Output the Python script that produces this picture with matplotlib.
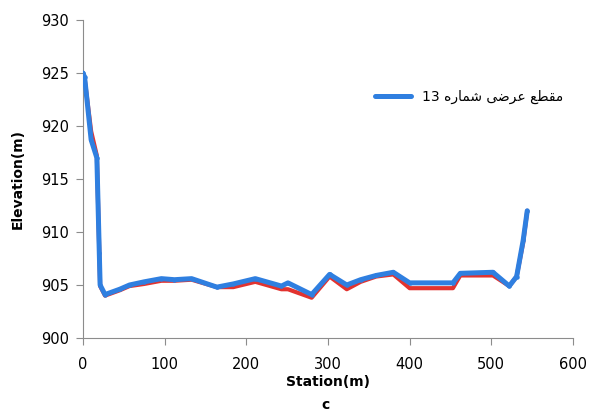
import numpy as np
import matplotlib
matplotlib.use("Agg")
import matplotlib.pyplot as plt

# ایستگاه ها (m) و ارتفاع دو پروفیل
station = [0, 2, 10, 17, 20, 21, 27, 45, 57, 75, 96, 112, 133, 164, 184, 211,
           243, 251, 280, 302, 323, 340, 359, 380, 400, 453, 462, 502, 522,
           531, 539, 544]
elev_blue = [925, 924.6, 918.7, 917, 908, 905, 904.1, 904.6, 905.0, 905.3,
             905.6, 905.5, 905.6, 904.8, 905.1, 905.6, 904.9, 905.2, 904.1,
             906.0, 905.0, 905.5, 905.9, 906.2, 905.2, 905.2, 906.1, 906.2,
             904.9, 905.8, 909.2, 912]
elev_red = [925, 924.5, 919.5, 917.2, 908, 904.9, 904.0, 904.5, 904.9, 905.1,
            905.4, 905.4, 905.5, 904.8, 904.8, 905.3, 904.6, 904.6, 903.8,
            905.8, 904.6, 905.3, 905.8, 906.0, 904.7, 904.7, 905.9, 905.9,
            904.9, 905.8, 909.0, 912]

x_ticks = [0, 100, 200, 300, 400, 500, 600]
y_ticks = [900, 905, 910, 915, 920, 925, 930]

# "مقطع عرضی شماره 13" با حروف شکل دار و ترتیب دیداری چپ به راست
legend_text = ("13 " + "\uFEE9\uFEAD\uFE8E\uFEE4\uFEB7" + " "
               + "\uFEF0\uFEBF\uFEAE\uFECB" + " " + "\uFECA\uFEC4\uFED8\uFEE3")

fig = plt.figure(figsize=(5.91, 4.12), dpi=100)
ax = fig.add_axes([0.1404, 0.1796, 0.8291, 0.7719])

ax.plot(station, elev_red, color="#e2332f", lw=3.0, solid_capstyle="round",
        zorder=2)
ax.plot(station, elev_blue, color="#2f7fe0", lw=3.6, marker="o", ms=2.2,
        solid_capstyle="round", solid_joinstyle="round", zorder=3,
        label=legend_text)

ax.set_xlim(0, 600)
ax.set_ylim(900, 930)
ax.set_xticks(x_ticks)
ax.set_yticks(y_ticks)

for s in ["top", "right"]:
    ax.spines[s].set_visible(False)
for s in ["left", "bottom"]:
    ax.spines[s].set_color("#8c8c8c")
ax.tick_params(direction="out", length=5, color="#8c8c8c", labelsize=10.5)
ax.tick_params(axis="x", pad=9)
ax.tick_params(axis="y", pad=5)

ax.set_xlabel("Station(m)", fontsize=10, fontweight="bold", labelpad=2)
ax.set_ylabel("Elevation(m)", fontsize=10, fontweight="bold", labelpad=12)
fig.text(0.551, 0.008, "c", fontsize=10, fontweight="bold", ha="center")

leg = ax.legend(loc="upper left", bbox_to_anchor=(0.57, 0.82), frameon=False,
                handlelength=2.6, numpoints=1,
                prop={"family": ["DejaVu Sans", "Noto Sans"], "size": 10})

fig.savefig("out.png", dpi=100)
